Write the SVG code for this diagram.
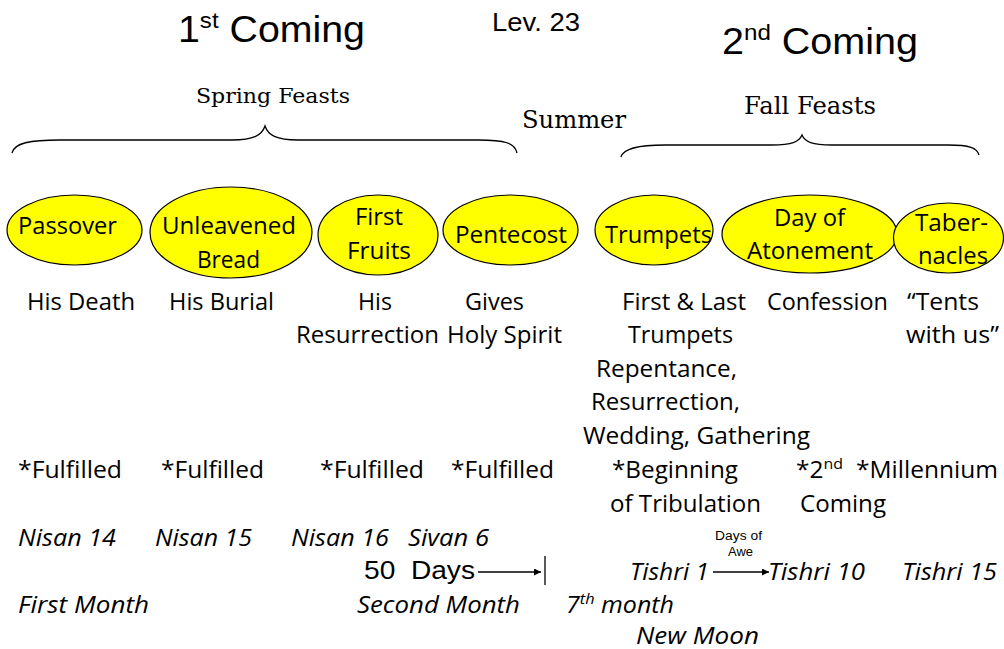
<svg xmlns="http://www.w3.org/2000/svg" width="1004" height="649" viewBox="0 0 1004 649">
<style>
.t{font-family:"Open Sans","Noto Sans",sans-serif;font-size:23px;fill:#000}
.i{font-style:italic}
.a{font-family:"Liberation Sans",Arial,sans-serif;fill:#000}
.s{font-family:"DejaVu Serif","Liberation Serif",serif;fill:#000}
.e{fill:#FFFF00;stroke:#000;stroke-width:1.2}
.c{fill:none;stroke:#000;stroke-width:1.3}
</style>
<defs>
<marker id="ah" viewBox="0 0 10 10" refX="10" refY="5" markerWidth="8" markerHeight="7" markerUnits="userSpaceOnUse" orient="auto">
<path d="M0,0 L10,5 L0,10 z" fill="#000"/>
</marker>
</defs>
<rect width="1004" height="649" fill="#fff"/>

<g id="titles">
<text class="a" x="178" y="42" font-size="36" textLength="187" lengthAdjust="spacingAndGlyphs">1<tspan font-size="22" dy="-14">st</tspan><tspan dy="14"> Coming</tspan></text>
<text class="a" x="492" y="31" font-size="25" textLength="88" lengthAdjust="spacingAndGlyphs">Lev. 23</text>
<text class="a" x="722" y="54" font-size="36" textLength="196" lengthAdjust="spacingAndGlyphs">2<tspan font-size="22" dy="-14">nd</tspan><tspan dy="14"> Coming</tspan></text>
</g>

<g id="seasons">
<text class="s" x="196" y="103" font-size="20" textLength="154" lengthAdjust="spacingAndGlyphs">Spring Feasts</text>
<text class="s" x="522" y="128" font-size="24" textLength="104" lengthAdjust="spacingAndGlyphs">Summer</text>
<text class="s" x="744" y="114" font-size="24" textLength="132" lengthAdjust="spacingAndGlyphs">Fall Feasts</text>
</g>

<g id="passover">
<ellipse class="e" cx="74.5" cy="230" rx="67.5" ry="35"/>
<text class="t" x="18" y="234" textLength="99" lengthAdjust="spacingAndGlyphs">Passover</text>
</g>
<g id="unleavened-bread">
<ellipse class="e" cx="231" cy="232.5" rx="81" ry="45.5"/>
<text class="t" x="162" y="234" textLength="134" lengthAdjust="spacingAndGlyphs">Unleavened</text>
<text class="t" x="197" y="268" textLength="63" lengthAdjust="spacingAndGlyphs">Bread</text>
</g>
<g id="first-fruits">
<ellipse class="e" cx="378" cy="235" rx="60" ry="40"/>
<text class="t" x="355" y="225" textLength="48" lengthAdjust="spacingAndGlyphs">First</text>
<text class="t" x="347" y="259" textLength="64" lengthAdjust="spacingAndGlyphs">Fruits</text>
</g>
<g id="pentecost">
<ellipse class="e" cx="510.5" cy="230" rx="67.5" ry="35"/>
<text class="t" x="455" y="243" textLength="112" lengthAdjust="spacingAndGlyphs">Pentecost</text>
</g>
<g id="trumpets">
<ellipse class="e" cx="654" cy="230" rx="59" ry="35"/>
<text class="t" x="605" y="243" textLength="107" lengthAdjust="spacingAndGlyphs">Trumpets</text>
</g>
<g id="day-of-atonement">
<ellipse class="e" cx="809.5" cy="234" rx="87.5" ry="39"/>
<text class="t" x="774" y="226" textLength="71" lengthAdjust="spacingAndGlyphs">Day of</text>
<text class="t" x="747" y="259" textLength="126" lengthAdjust="spacingAndGlyphs">Atonement</text>
</g>
<g id="tabernacles">
<ellipse class="e" cx="948.5" cy="238" rx="55" ry="35"/>
<text class="t" x="915" y="231" textLength="73" lengthAdjust="spacingAndGlyphs">Taber-</text>
<text class="t" x="918" y="264" textLength="70" lengthAdjust="spacingAndGlyphs">nacles</text>
</g>

<g id="meanings">
<text class="t" x="27" y="310" textLength="108" lengthAdjust="spacingAndGlyphs">His Death</text>
<text class="t" x="169" y="310" textLength="105" lengthAdjust="spacingAndGlyphs">His Burial</text>
<text class="t" x="358" y="310" textLength="34" lengthAdjust="spacingAndGlyphs">His</text>
<text class="t" x="296" y="343" textLength="143" lengthAdjust="spacingAndGlyphs">Resurrection</text>
<text class="t" x="465" y="310" textLength="59" lengthAdjust="spacingAndGlyphs">Gives</text>
<text class="t" x="447" y="343" textLength="115" lengthAdjust="spacingAndGlyphs">Holy Spirit</text>
<text class="t" x="622" y="310" textLength="124" lengthAdjust="spacingAndGlyphs">First &amp; Last</text>
<text class="t" x="628" y="343" textLength="105" lengthAdjust="spacingAndGlyphs">Trumpets</text>
<text class="t" x="596" y="377" textLength="141" lengthAdjust="spacingAndGlyphs">Repentance,</text>
<text class="t" x="591" y="410" textLength="149" lengthAdjust="spacingAndGlyphs">Resurrection,</text>
<text class="t" x="583" y="444" textLength="227" lengthAdjust="spacingAndGlyphs">Wedding, Gathering</text>
<text class="t" x="767" y="310" textLength="121" lengthAdjust="spacingAndGlyphs">Confession</text>
<text class="t" x="907" y="310" textLength="72" lengthAdjust="spacingAndGlyphs">“Tents</text>
<text class="t" x="906" y="343" textLength="93" lengthAdjust="spacingAndGlyphs">with us”</text>
</g>

<g id="fulfilment">
<text class="t" x="18" y="478" textLength="104" lengthAdjust="spacingAndGlyphs">*Fulfilled</text>
<text class="t" x="161" y="478" textLength="103" lengthAdjust="spacingAndGlyphs">*Fulfilled</text>
<text class="t" x="320" y="478" textLength="104" lengthAdjust="spacingAndGlyphs">*Fulfilled</text>
<text class="t" x="451" y="478" textLength="103" lengthAdjust="spacingAndGlyphs">*Fulfilled</text>
<text class="t" x="612" y="478" textLength="126" lengthAdjust="spacingAndGlyphs">*Beginning</text>
<text class="t" x="610" y="512" textLength="151" lengthAdjust="spacingAndGlyphs">of Tribulation</text>
<text class="t" x="796" y="478" textLength="47" lengthAdjust="spacingAndGlyphs">*2<tspan font-size="15" dy="-9">nd</tspan></text>
<text class="t" x="800" y="512" textLength="86" lengthAdjust="spacingAndGlyphs">Coming</text>
<text class="t" x="856" y="478" textLength="142" lengthAdjust="spacingAndGlyphs">*Millennium</text>
</g>

<g id="dates">
<text class="t i" x="18" y="546" textLength="98" lengthAdjust="spacingAndGlyphs">Nisan 14</text>
<text class="t i" x="155" y="546" textLength="97" lengthAdjust="spacingAndGlyphs">Nisan 15</text>
<text class="t i" x="291" y="546" textLength="98" lengthAdjust="spacingAndGlyphs">Nisan 16</text>
<text class="t i" x="408" y="546" textLength="81" lengthAdjust="spacingAndGlyphs">Sivan 6</text>
<text class="a" x="364" y="579" font-size="25" xml:space="preserve" textLength="111" lengthAdjust="spacingAndGlyphs">50  Days</text>
<text class="t i" x="630" y="580" textLength="79" lengthAdjust="spacingAndGlyphs">Tishri 1</text>
<text class="a" x="715" y="540" font-size="12.5" textLength="47" lengthAdjust="spacingAndGlyphs">Days of</text>
<text class="a" x="728" y="556" font-size="12.5" textLength="25" lengthAdjust="spacingAndGlyphs">Awe</text>
<text class="t i" x="768" y="580" textLength="97" lengthAdjust="spacingAndGlyphs">Tishri 10</text>
<text class="t i" x="902" y="580" textLength="95" lengthAdjust="spacingAndGlyphs">Tishri 15</text>
<text class="t i" x="18" y="613" textLength="131" lengthAdjust="spacingAndGlyphs">First Month</text>
<text class="t i" x="357" y="613" textLength="163" lengthAdjust="spacingAndGlyphs">Second Month</text>
<text class="t i" x="566" y="613" textLength="108" lengthAdjust="spacingAndGlyphs">7<tspan font-size="15" dy="-9">th</tspan><tspan dy="9"> month</tspan></text>
<text class="t i" x="636" y="644" textLength="123" lengthAdjust="spacingAndGlyphs">New Moon</text>
</g>

<g id="connectors">
<path class="c" d="M12,153 C14,143 30,140 60,140 L232,140 C254,140 262,135 265,126 C268,135 276,140 298,140 L478,140 C505,140 515,143 517,153"/>
<path class="c" d="M621,157 C623,149 638,145 665,145 L772,145 C792,145 799,142 802,135 C805,142 812,145 832,145 L948,145 C970,145 977,148 979,155"/>
<line class="c" x1="478" y1="572" x2="541" y2="572" marker-end="url(#ah)"/>
<line class="c" x1="545" y1="556" x2="545" y2="585"/>
<line class="c" x1="713" y1="572" x2="769" y2="572" marker-end="url(#ah)"/>
</g>
</svg>
